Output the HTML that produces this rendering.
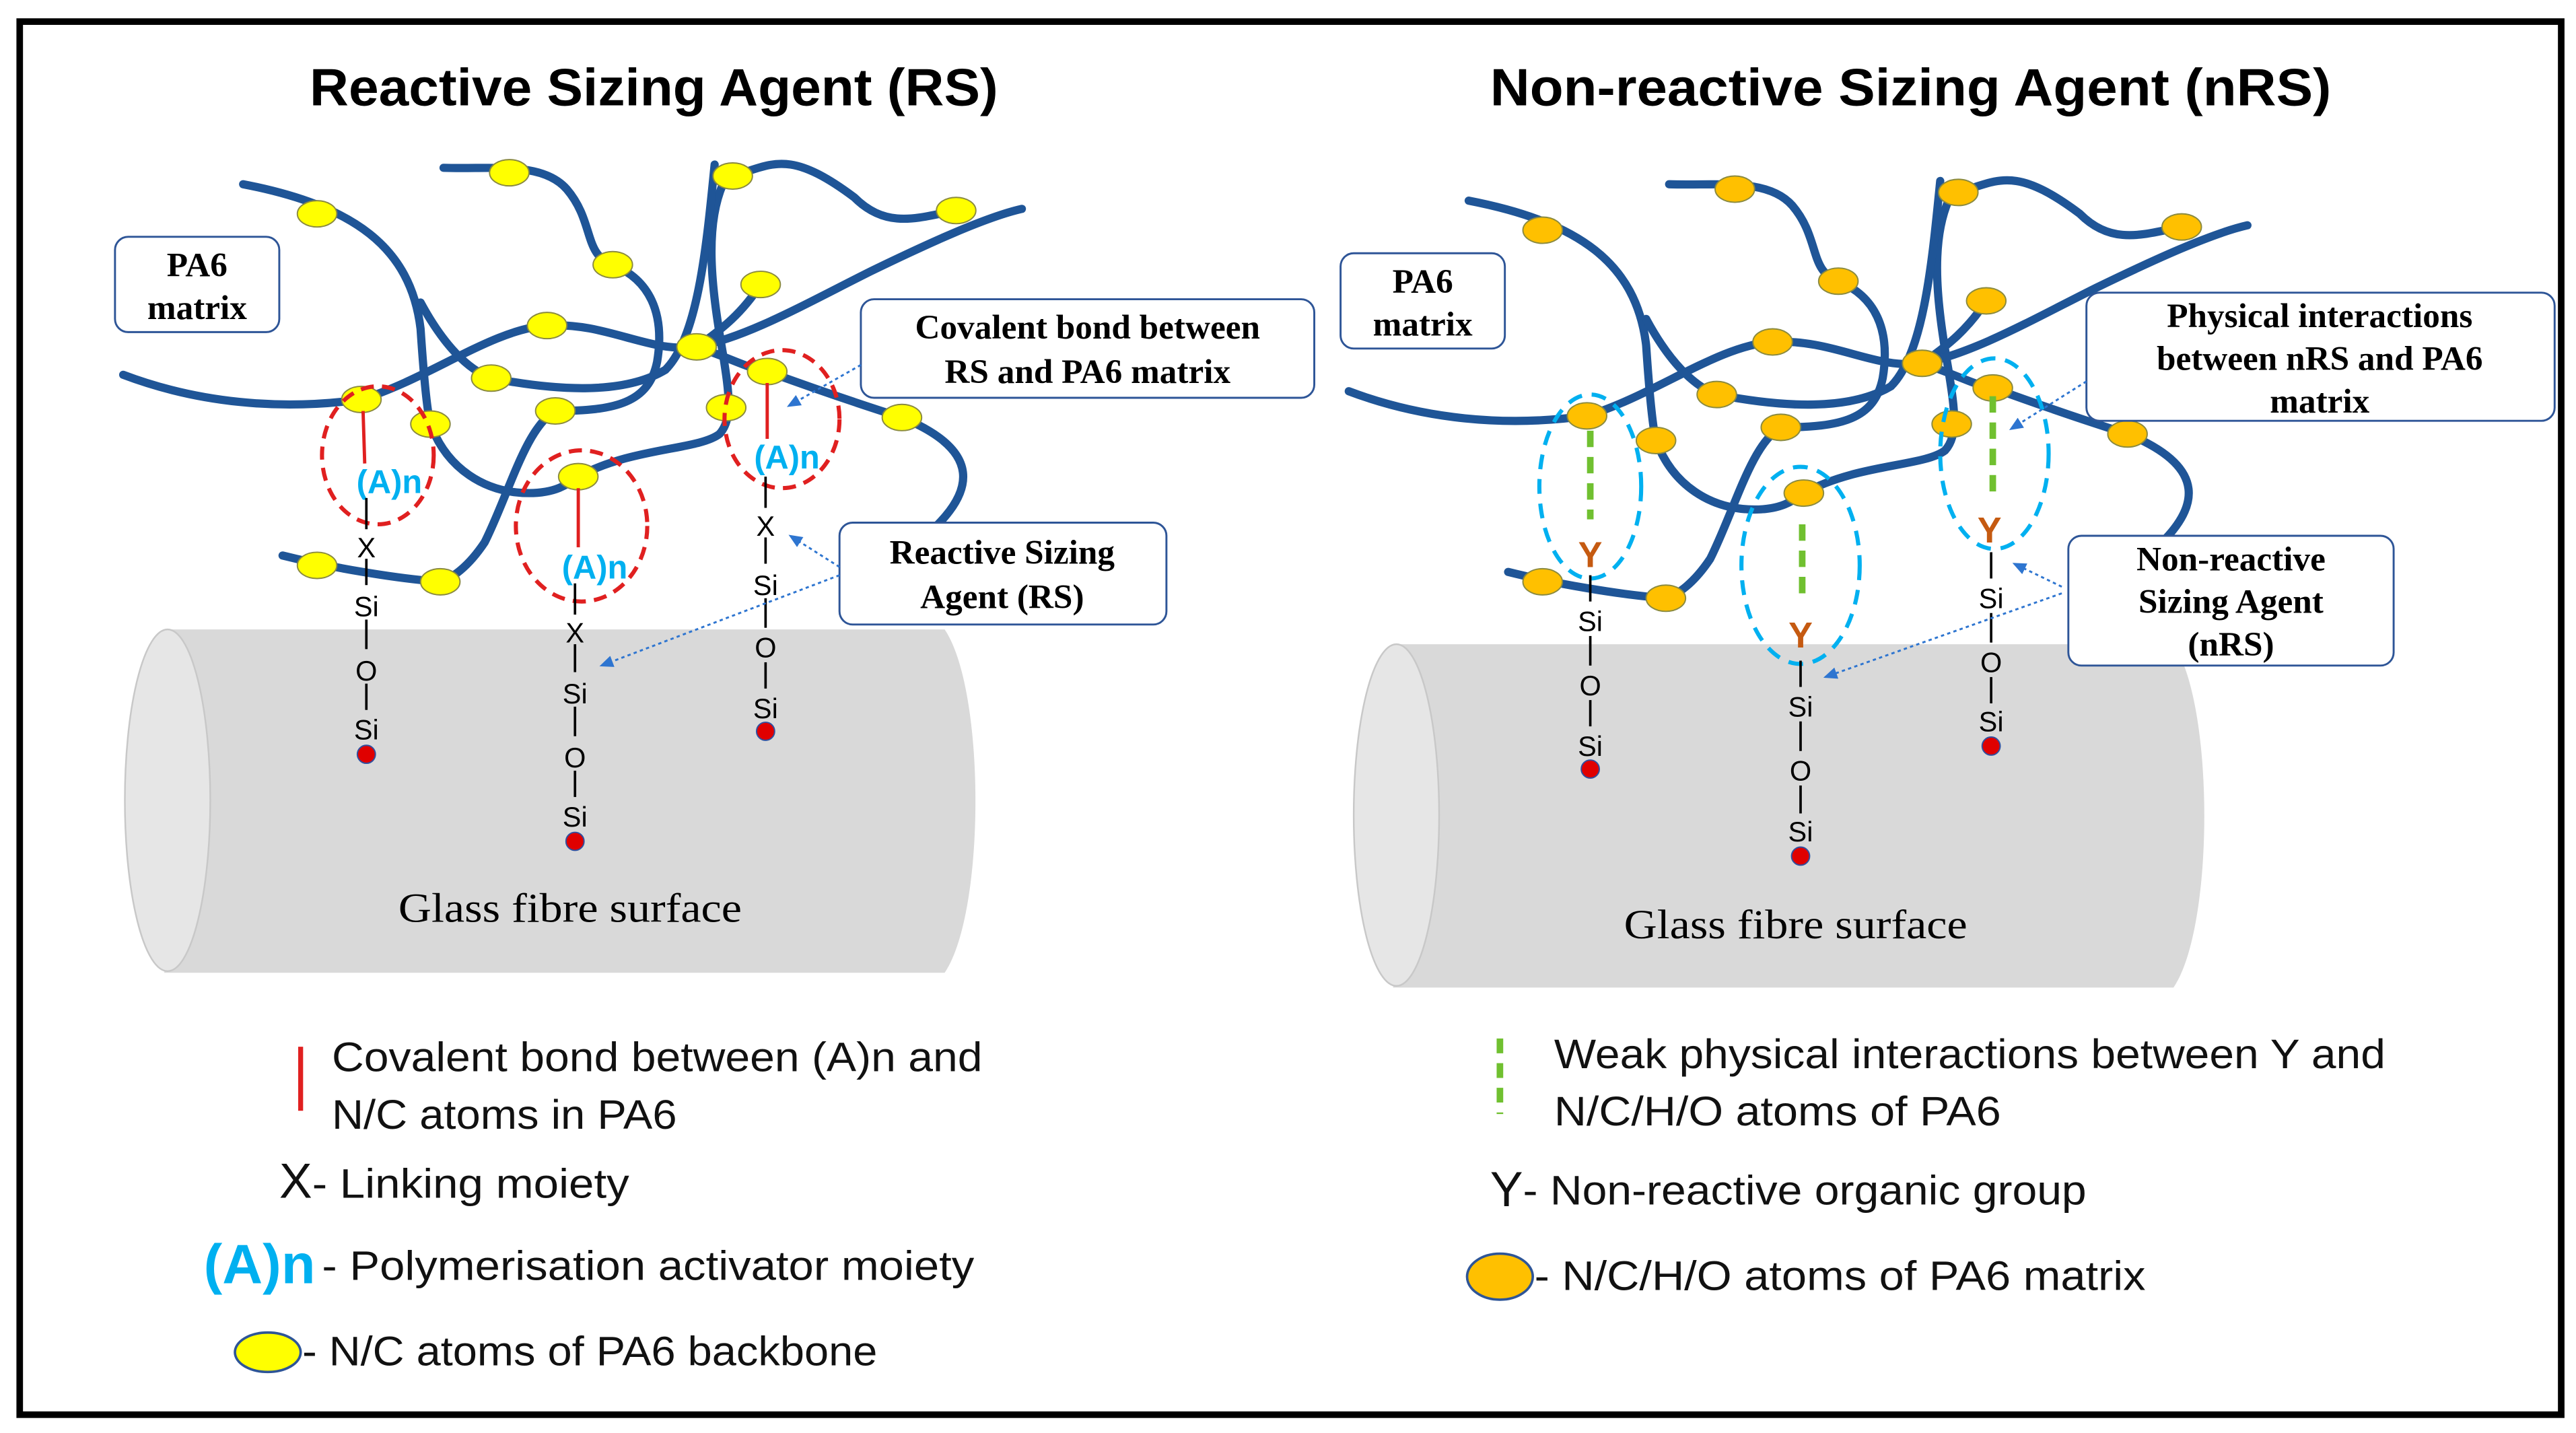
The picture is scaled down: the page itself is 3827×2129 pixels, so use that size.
<!DOCTYPE html>
<html><head><meta charset="utf-8"><style>
html,body{margin:0;padding:0;background:#fff;}
svg{display:block;}
.ser{font-family:"Liberation Serif",serif;}
.san{font-family:"Liberation Sans",sans-serif;}
</style></head><body>
<svg width="3827" height="2129" viewBox="0 0 1568 872" xmlns="http://www.w3.org/2000/svg">
<defs>
<marker id="ar" markerWidth="8" markerHeight="8" refX="6" refY="3" orient="auto"><path d="M0,0 L7,3 L0,6 Z" fill="#2e75d0"/></marker>
<g id="cyl">
  <path d="M100,383 L575,383 C600,420 600,555 575,592 L100,592 Z" fill="#d9d9d9"/>
  <ellipse cx="102" cy="487" rx="26" ry="104" fill="#e6e6e6" stroke="#c8c8c8" stroke-width="1"/>
</g>
<g id="chains" fill="none" stroke="#1f5597" stroke-width="5" stroke-linecap="round">
  <path d="M148,112 C215,125 250,150 256,200 C258,230 260,250 262,258 C272,285 295,300 322,300 C338,300 345,295 352,290 C385,272 425,274 438,264 C446,255 444,240 440,215 C434,180 428,140 440,112"/>
  <path d="M75,228 C120,245 170,250 220,243 C262,230 300,200 333,198 C370,196 395,215 424,211 C455,205 490,185 530,165 C565,148 600,132 622,127"/>
  <path d="M270,102 C300,103 330,98 345,115 C362,135 355,155 373,161 C395,170 405,190 400,220 C395,245 375,250 338,250 C320,260 310,300 295,330 C285,345 275,352 268,354 C240,352 200,345 172,338"/>
  <path d="M256,184 C270,210 285,225 299,230 C340,238 380,240 405,225 C425,205 430,150 435,100"/>
  <path d="M424,211 C445,218 455,224 467,226 C500,238 530,248 549,254 C600,275 590,300 570,320"/>
  <path d="M446,107 C470,100 480,90 520,120 C540,140 560,132 582,128"/>
  <path d="M463,173 C452,190 440,200 424,211"/>
</g>
<g id="ydots" stroke="#8a8a40" stroke-width="0.8">
  <ellipse cx="193" cy="130" rx="12" ry="8"/><ellipse cx="310" cy="105" rx="12" ry="8"/>
  <ellipse cx="446" cy="107" rx="12" ry="8"/><ellipse cx="582" cy="128" rx="12" ry="8"/>
  <ellipse cx="373" cy="161" rx="12" ry="8"/><ellipse cx="463" cy="173" rx="12" ry="8"/>
  <ellipse cx="333" cy="198" rx="12" ry="8"/><ellipse cx="299" cy="230" rx="12" ry="8"/>
  <ellipse cx="424" cy="211" rx="12" ry="8"/><ellipse cx="220" cy="243" rx="12" ry="8"/>
  <ellipse cx="262" cy="258" rx="12" ry="8"/><ellipse cx="338" cy="250" rx="12" ry="8"/>
  <ellipse cx="442" cy="248" rx="12" ry="8"/><ellipse cx="467" cy="226" rx="12" ry="8"/>
  <ellipse cx="549" cy="254" rx="12" ry="8"/><ellipse cx="352" cy="290" rx="12" ry="8"/>
  <ellipse cx="193" cy="344" rx="12" ry="8"/><ellipse cx="268" cy="354" rx="12" ry="8"/>
</g>
</defs>
<rect x="0" y="0" width="1568" height="872" fill="#fff"/>
<rect x="12" y="13" width="1547" height="848" fill="none" stroke="#000" stroke-width="4"/>

<text x="398" y="64" text-anchor="middle" class="san" font-size="32" font-weight="bold" textLength="419" lengthAdjust="spacingAndGlyphs">Reactive Sizing Agent (RS)</text>
<text x="1163" y="64" text-anchor="middle" class="san" font-size="32" font-weight="bold" textLength="512" lengthAdjust="spacingAndGlyphs">Non-reactive Sizing Agent (nRS)</text>

<!-- LEFT -->
<use href="#cyl"/>
<text x="347" y="561" text-anchor="middle" class="ser" font-size="25" textLength="209" lengthAdjust="spacingAndGlyphs">Glass fibre surface</text>
<use href="#chains"/>
<use href="#ydots" fill="#ffff00"/>
<g fill="none" stroke="#e02020" stroke-width="2.5" stroke-dasharray="8,5">
  <ellipse cx="230" cy="277" rx="34" ry="42"/>
  <ellipse cx="354" cy="320" rx="40" ry="46"/>
  <ellipse cx="476" cy="255" rx="35" ry="42"/>
</g>
<g stroke="#e02020" stroke-width="2"><line x1="221" y1="250" x2="222" y2="282"/><line x1="352" y1="297" x2="352" y2="333"/><line x1="467" y1="233" x2="467" y2="267"/></g>
<g class="san" font-size="20" font-weight="bold" fill="#00b0f0" text-anchor="middle">
  <text x="237" y="300">(A)n</text><text x="362" y="352">(A)n</text><text x="479" y="285">(A)n</text>
</g>
<g stroke="#000" stroke-width="1.5">
  <line x1="223" y1="303" x2="223" y2="322"/><line x1="223" y1="340" x2="223" y2="356"/><line x1="223" y1="377" x2="223" y2="395"/><line x1="223" y1="416" x2="223" y2="432"/>
  <line x1="350" y1="355" x2="350" y2="374"/><line x1="350" y1="392" x2="350" y2="409"/><line x1="350" y1="430" x2="350" y2="448"/><line x1="350" y1="469" x2="350" y2="485"/>
  <line x1="466" y1="290" x2="466" y2="309"/><line x1="466" y1="327" x2="466" y2="343"/><line x1="466" y1="364" x2="466" y2="382"/><line x1="466" y1="403" x2="466" y2="419"/>
</g>
<g class="san" font-size="17" text-anchor="middle">
  <text x="223" y="339">X</text><text x="223" y="375">Si</text><text x="223" y="414">O</text><text x="223" y="450">Si</text>
  <text x="350" y="391">X</text><text x="350" y="428">Si</text><text x="350" y="467">O</text><text x="350" y="503">Si</text>
  <text x="466" y="326">X</text><text x="466" y="362">Si</text><text x="466" y="400">O</text><text x="466" y="437">Si</text>
</g>
<g fill="#e00000" stroke="#3050a0" stroke-width="0.8"><circle cx="223" cy="459" r="5.5"/><circle cx="350" cy="512" r="5.5"/><circle cx="466" cy="445" r="5.5"/></g>

<g fill="#fff" stroke="#2e5597" stroke-width="1.2">
  <rect x="70" y="144" width="100" height="58" rx="8"/>
  <rect x="524" y="182" width="276" height="60" rx="8"/>
  <rect x="511" y="318" width="199" height="62" rx="8"/>
</g>
<g class="ser" font-size="21" font-weight="bold" text-anchor="middle">
  <text x="120" y="168">PA6</text><text x="120" y="194">matrix</text>
  <text x="662" y="206">Covalent bond between</text><text x="662" y="233">RS and PA6 matrix</text>
  <text x="610" y="343">Reactive Sizing</text><text x="610" y="370">Agent (RS)</text>
</g>
<g stroke="#2e75d0" stroke-width="1.2" stroke-dasharray="2,2" marker-end="url(#ar)" fill="none">
  <line x1="524" y1="222" x2="480" y2="247"/>
  <line x1="511" y1="345" x2="481" y2="326"/>
  <line x1="511" y1="350" x2="366" y2="405"/>
</g>

<!-- LEFT legend -->
<line x1="183" y1="637" x2="183" y2="676" stroke="#e02020" stroke-width="3"/>
<g class="san" font-size="25" fill="#111" lengthAdjust="spacingAndGlyphs">
  <text x="202" y="652" textLength="396" lengthAdjust="spacingAndGlyphs">Covalent bond between (A)n and</text>
  <text x="202" y="687" textLength="210" lengthAdjust="spacingAndGlyphs">N/C atoms in PA6</text>
  <text x="170" y="729" font-size="30">X</text><text x="190" y="729" textLength="193" lengthAdjust="spacingAndGlyphs">- Linking moiety</text>
  <text x="124" y="781" font-size="34" font-weight="bold" fill="#00b0f0">(A)n</text>
  <text x="196" y="779" textLength="397" lengthAdjust="spacingAndGlyphs">- Polymerisation activator moiety</text>
  <text x="184" y="831" textLength="350" lengthAdjust="spacingAndGlyphs">- N/C atoms of PA6 backbone</text>
</g>
<ellipse cx="163" cy="823" rx="20" ry="12" fill="#ffff00" stroke="#2e5597" stroke-width="1.5"/>

<!-- RIGHT -->
<g transform="translate(748,9)"><use href="#cyl"/></g>
<text x="1093" y="571" text-anchor="middle" class="ser" font-size="25" textLength="209" lengthAdjust="spacingAndGlyphs">Glass fibre surface</text>
<g transform="translate(746,10)"><use href="#chains"/><use href="#ydots" fill="#ffc000"/></g>
<g fill="none" stroke="#00b0f0" stroke-width="2.5" stroke-dasharray="9,6">
  <ellipse cx="968" cy="296" rx="31" ry="56"/>
  <ellipse cx="1096" cy="344" rx="36" ry="60"/>
  <ellipse cx="1214" cy="276" rx="33" ry="58"/>
</g>
<g stroke="#70c030" stroke-width="4" stroke-dasharray="10,6">
  <line x1="968" y1="262" x2="968" y2="316"/><line x1="1097" y1="319" x2="1097" y2="362"/><line x1="1213" y1="241" x2="1213" y2="303"/>
</g>
<g class="san" font-size="22" font-weight="bold" fill="#c55a11" text-anchor="middle">
  <text x="968" y="345">Y</text><text x="1096" y="394">Y</text><text x="1211" y="330">Y</text>
</g>
<g stroke="#000" stroke-width="1.5">
  <line x1="968" y1="350" x2="968" y2="366"/><line x1="968" y1="387" x2="968" y2="405"/><line x1="968" y1="426" x2="968" y2="442"/>
  <line x1="1096" y1="402" x2="1096" y2="418"/><line x1="1096" y1="439" x2="1096" y2="457"/><line x1="1096" y1="478" x2="1096" y2="495"/>
  <line x1="1212" y1="336" x2="1212" y2="352"/><line x1="1212" y1="373" x2="1212" y2="391"/><line x1="1212" y1="412" x2="1212" y2="428"/>
</g>
<g class="san" font-size="17" text-anchor="middle">
  <text x="968" y="384">Si</text><text x="968" y="423">O</text><text x="968" y="460">Si</text>
  <text x="1096" y="436">Si</text><text x="1096" y="475">O</text><text x="1096" y="512">Si</text>
  <text x="1212" y="370">Si</text><text x="1212" y="409">O</text><text x="1212" y="445">Si</text>
</g>
<g fill="#e00000" stroke="#3050a0" stroke-width="0.8"><circle cx="968" cy="468" r="5.5"/><circle cx="1096" cy="521" r="5.5"/><circle cx="1212" cy="454" r="5.5"/></g>

<g fill="#fff" stroke="#2e5597" stroke-width="1.2">
  <rect x="816" y="154" width="100" height="58" rx="8"/>
  <rect x="1270" y="178" width="285" height="78" rx="8"/>
  <rect x="1259" y="326" width="198" height="79" rx="8"/>
</g>
<g class="ser" font-size="21" font-weight="bold" text-anchor="middle">
  <text x="866" y="178">PA6</text><text x="866" y="204">matrix</text>
  <text x="1412" y="199">Physical interactions</text><text x="1412" y="225">between nRS and PA6</text><text x="1412" y="251">matrix</text>
  <text x="1358" y="347">Non-reactive</text><text x="1358" y="373">Sizing Agent</text><text x="1358" y="399">(nRS)</text>
</g>
<g stroke="#2e75d0" stroke-width="1.2" stroke-dasharray="2,2" marker-end="url(#ar)" fill="none">
  <line x1="1270" y1="232" x2="1224" y2="261"/>
  <line x1="1255" y1="357" x2="1226" y2="343"/>
  <line x1="1255" y1="361" x2="1111" y2="412"/>
</g>

<!-- RIGHT legend -->
<line x1="913" y1="632" x2="913" y2="678" stroke="#70c030" stroke-width="4" stroke-dasharray="9,6"/>
<g class="san" font-size="25" fill="#111">
  <text x="946" y="650" textLength="506" lengthAdjust="spacingAndGlyphs">Weak physical interactions between Y and</text>
  <text x="946" y="685" textLength="272" lengthAdjust="spacingAndGlyphs">N/C/H/O atoms of PA6</text>
  <text x="907" y="734" font-size="30">Y</text><text x="927" y="733" textLength="343" lengthAdjust="spacingAndGlyphs">- Non-reactive organic group</text>
  <text x="934" y="785" textLength="372" lengthAdjust="spacingAndGlyphs">- N/C/H/O atoms of PA6 matrix</text>
</g>
<ellipse cx="913" cy="777" rx="20" ry="14" fill="#ffc000" stroke="#2e5597" stroke-width="1.5"/>
</svg>
</body></html>
